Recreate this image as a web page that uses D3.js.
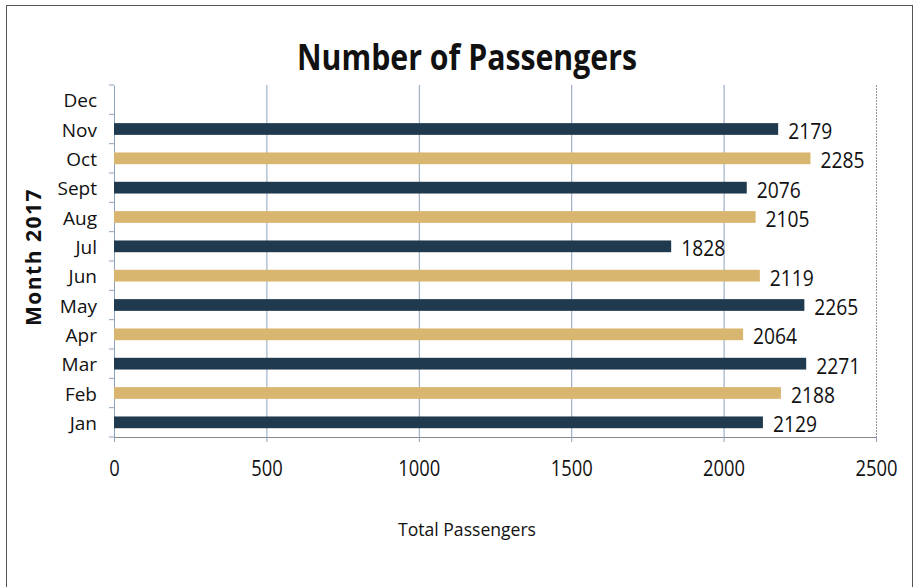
<!DOCTYPE html>
<html><head><meta charset="utf-8">
<script src="https://cdn.jsdelivr.net/npm/d3@7"></script>
<style>body{margin:0;background:#fff}svg{display:block}text{font-family:"Open Sans","Noto Sans",sans-serif;fill:#111}</style>
</head><body><svg id="c" width="917" height="587"></svg>
<script>
const months = ["Jan","Feb","Mar","Apr","May","Jun","Jul","Aug","Sept","Oct","Nov","Dec"];
const passengers = [2129,2188,2271,2064,2265,2119,1828,2105,2076,2285,2179,null];
const xTicks = [0,500,1000,1500,2000,2500];
const colors = ["#1f3a4e","#d8b66f"];

const svg = d3.select("#c");
const L=114,R=876,T=85,B=437;

svg.append("rect").attr("x",6.5).attr("y",5.5).attr("width",906).attr("height",600)
  .attr("fill","none").attr("stroke","#555").attr("stroke-width",1);

const x = d3.scaleLinear().domain([0,2500]).range([L,R]);
const y = d3.scaleBand().domain(months.slice().reverse()).range([T,B]).paddingInner(0.6).paddingOuter(0.3);

// gridlines
svg.append("g").selectAll("line").data(xTicks.slice(1)).join("line")
  .attr("x1",d=>x(d)+0.5).attr("x2",d=>x(d)+0.5).attr("y1",T).attr("y2",B)
  .attr("stroke",d=>d===2500?"#999":"#8ea3bb").attr("stroke-width",1)
  .attr("stroke-dasharray",d=>d===2500?"2,1":null);

// x axis
const xa = svg.append("g").attr("transform",`translate(0,${B})`)
  .call(d3.axisBottom(x).tickValues(xTicks).tickSize(5).tickPadding(19).tickFormat(d3.format("d")));
xa.select(".domain").attr("stroke","#888");
xa.selectAll(".tick line").attr("stroke","#8ea3bb");
xa.selectAll("text").attr("font-size",21).attr("fill","#111").attr("font-family","Open Sans")
  .attr("textLength",function(d){return String(d).length*10.5;}).attr("lengthAdjust","spacingAndGlyphs");

// y axis
const ya = svg.append("g").attr("transform",`translate(${L},0)`)
  .call(d3.axisLeft(y).tickSize(0).tickPadding(17));
ya.select(".domain").attr("stroke","#8ea3bb");
ya.selectAll("text").attr("font-size",19).attr("fill","#111").attr("dy","0.4em");
svg.append("g").selectAll("line").data(d3.range(13)).join("line")
  .attr("x1",L-5).attr("x2",L).attr("y1",i=>T+i*(B-T)/12).attr("y2",i=>T+i*(B-T)/12)
  .attr("stroke","#8ea3bb");

// bars
const data = months.map((m,i)=>({m,v:passengers[i],i})).filter(d=>d.v!=null);
svg.append("g").selectAll("rect").data(data).join("rect")
  .attr("x",x(0)).attr("y",d=>y(d.m)).attr("width",d=>x(d.v)-x(0)).attr("height",y.bandwidth())
  .attr("fill",d=>colors[d.i%2]);

svg.append("g").selectAll("text").data(data).join("text")
  .attr("x",d=>x(d.v)+10).attr("y",d=>y(d.m)+y.bandwidth()/2+10)
  .attr("font-size",21).attr("textLength",44).attr("lengthAdjust","spacingAndGlyphs").text(d=>d.v);

// title
svg.append("text").attr("x",467).attr("y",70).attr("text-anchor","middle")
  .attr("font-size",35).attr("font-weight","bold").attr("textLength",340).attr("lengthAdjust","spacingAndGlyphs")
  .text("Number of Passengers");

svg.append("text").attr("x",467).attr("y",536).attr("text-anchor","middle").attr("font-size",18)
  .attr("textLength",138).attr("lengthAdjust","spacingAndGlyphs").text("Total Passengers");

svg.append("text").attr("transform","translate(41,257) rotate(-90)").attr("text-anchor","middle")
  .attr("font-size",21).attr("font-weight","bold").attr("letter-spacing","1.5px")
  .text("Month 2017");
</script></body></html>
